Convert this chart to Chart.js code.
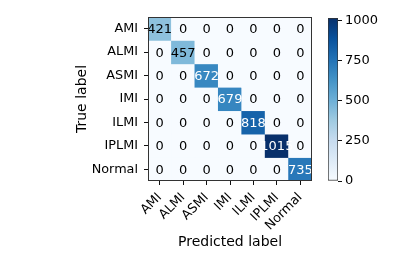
<!DOCTYPE html>
<html>
<head>
<meta charset="utf-8">
<script src="https://cdn.jsdelivr.net/npm/chart.js@4/dist/chart.umd.min.js"></script>
<style>
  body { margin: 0; background: #fff; }
  #wrap { position: relative; width: 399px; height: 266px; overflow: hidden; }
  canvas { position: absolute; top: 0; }
</style>
</head>
<body>
<div id="wrap">
  <canvas id="cm" width="399" height="266" style="left:0"></canvas>
  <canvas id="cbar" width="99" height="266" style="left:300px"></canvas>
</div>
<script>
(function () {
  const classes = ['AMI', 'ALMI', 'ASMI', 'IMI', 'ILMI', 'IPLMI', 'Normal'];
  // rows = true label, columns = predicted label
  const rowAMI = [421, 0, 0, 0, 0, 0, 0];
  const rowALMI = [0, 457, 0, 0, 0, 0, 0];
  const rowASMI = [0, 0, 672, 0, 0, 0, 0];
  const rowIMI = [0, 0, 0, 679, 0, 0, 0];
  const rowILMI = [0, 0, 0, 0, 818, 0, 0];
  const rowIPLMI = [0, 0, 0, 0, 0, 1015, 0];
  const rowNormal = [0, 0, 0, 0, 0, 0, 735];
  const colorbarTicks = [0, 250, 500, 750, 1000];

  const matrix = [rowAMI, rowALMI, rowASMI, rowIMI, rowILMI, rowIPLMI, rowNormal];
  const vmax = Math.max(...matrix.flat());

  const TICK_FONT = { family: 'DejaVu Sans', size: 12.8 };
  const CELL_FONT = { family: 'DejaVu Sans', size: 13 };
  const TITLE_FONT = { family: 'DejaVu Sans', size: 14 };
  const INK = '#111';

  // matplotlib "Blues"
  const bluesStops = ['#f7fbff', '#deebf7', '#c6dbef', '#9ecae1', '#6baed6',
    '#4292c6', '#2171b5', '#08519c', '#08306b'];

  function hexToRgb(hex) {
    const h = hex.substring(1);
    return [0, 2, 4].map((i) => parseInt(h.substr(i, 2), 16));
  }

  function blues(v) {
    let t = Math.min(Math.max(v / vmax, 0), 1) * (bluesStops.length - 1);
    const i = Math.min(Math.floor(t), bluesStops.length - 2);
    const f = t - i;
    const a = hexToRgb(bluesStops[i]);
    const b = hexToRgb(bluesStops[i + 1]);
    const c = a.map((x, k) => Math.round(x + (b[k] - x) * f));
    return 'rgb(' + c[0] + ',' + c[1] + ',' + c[2] + ')';
  }

  const datasets = matrix.map((row, i) => ({
    label: classes[i],
    data: row.map(() => [i - 0.5, i + 0.5]),
    backgroundColor: row.map((v) => blues(v)),
    borderWidth: 0,
    barPercentage: 1,
    categoryPercentage: 1,
    grouped: false,
  }));

  const cellText = {
    id: 'cellText',
    afterDatasetsDraw(chart) {
      const { ctx, scales } = chart;
      ctx.save();
      ctx.font = CELL_FONT.size + 'px ' + CELL_FONT.family;
      ctx.textAlign = 'center';
      ctx.textBaseline = 'middle';
      matrix.forEach((row, i) => {
        row.forEach((v, j) => {
          ctx.fillStyle = v > vmax / 2 ? '#fff' : '#000';
          ctx.fillText(String(v), scales.x.getPixelForValue(j), scales.y.getPixelForValue(i) + 1);
        });
      });
      // frame round the axes
      const a = chart.chartArea;
      ctx.strokeStyle = '#333';
      ctx.lineWidth = 1;
      ctx.strokeRect(a.left + 0.5, a.top + 0.5, a.right - a.left - 1, a.bottom - a.top - 1);
      ctx.restore();
    },
  };

  new Chart(document.getElementById('cm'), {
    type: 'bar',
    data: { labels: classes, datasets },
    options: {
      responsive: false,
      animation: false,
      layout: { padding: { left: 70, top: 17, right: 87, bottom: 15 } },
      plugins: { legend: { display: false }, tooltip: { enabled: false } },
      scales: {
        x: {
          type: 'category',
          offset: true,
          grid: { offset: false, drawOnChartArea: false, drawTicks: true, tickLength: 4, color: INK },
          border: { display: false },
          ticks: { color: '#000', font: TICK_FONT, maxRotation: 45, minRotation: 45, autoSkip: false, padding: 5 },
          title: { display: true, text: 'Predicted label', color: '#000', font: TITLE_FONT, padding: { top: 0, bottom: 0 } },
          afterFit: (scale) => { scale.height = 70; },
        },
        y: {
          type: 'linear',
          reverse: true,
          min: -0.5,
          max: 6.5,
          afterBuildTicks: (scale) => { scale.ticks = classes.map((c, i) => ({ value: i })); },
          grid: { drawOnChartArea: false, drawTicks: true, tickLength: 4, color: INK },
          border: { display: false },
          ticks: { color: '#000', font: TICK_FONT, padding: 6, autoSkip: false, callback: (v) => classes[v] },
          title: { display: true, text: 'True label', color: '#000', font: TITLE_FONT, padding: { top: 4, bottom: 0 } },
          afterFit: (scale) => { scale.width = 78; },
        },
      },
    },
    plugins: [cellText],
  });

  new Chart(document.getElementById('cbar'), {
    type: 'bar',
    data: {
      labels: ['cb'],
      datasets: [{
        data: [[0, vmax]],
        backgroundColor: (context) => {
          const chart = context.chart;
          if (!chart.chartArea) return bluesStops[4];
          const y = chart.scales.y;
          const g = chart.ctx.createLinearGradient(0, y.getPixelForValue(0), 0, y.getPixelForValue(vmax));
          bluesStops.forEach((c, k) => g.addColorStop(k / (bluesStops.length - 1), c));
          return g;
        },
        borderColor: '#333',
        borderWidth: 1,
        borderSkipped: false,
        barPercentage: 1,
        categoryPercentage: 1,
      }],
    },
    options: {
      responsive: false,
      animation: false,
      layout: { padding: { left: 28, top: 18, right: 0, bottom: 85 } },
      plugins: { legend: { display: false }, tooltip: { enabled: false } },
      scales: {
        x: { display: false },
        y: {
          position: 'right',
          min: 0,
          max: vmax,
          afterBuildTicks: (scale) => { scale.ticks = colorbarTicks.map((v) => ({ value: v })); },
          grid: { drawOnChartArea: false, drawTicks: true, tickLength: 4, color: INK },
          border: { display: false },
          ticks: { color: '#000', font: { family: 'DejaVu Sans', size: 13 }, padding: 3, callback: (v) => String(v) },
          afterFit: (scale) => { scale.width = 61; },
        },
      },
    },
  });
})();
</script>
</body>
</html>
